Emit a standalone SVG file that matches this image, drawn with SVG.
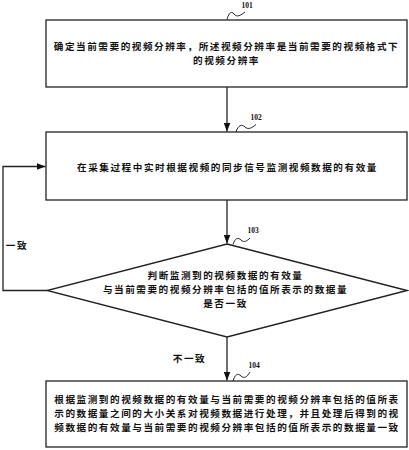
<svg xmlns="http://www.w3.org/2000/svg" width="409" height="450" viewBox="0 0 409 450">
<style>
.box{fill:#fff;stroke:#222;stroke-width:1.3}
.t{font-family:"Noto Sans CJK SC","Noto Sans CJK JP",sans-serif;font-size:9.6px;font-weight:bold;fill:#111;text-anchor:middle;letter-spacing:1.55px}
.n{font-family:"Liberation Serif",serif;font-size:7.5px;font-weight:bold;fill:#111;text-anchor:middle}
.c{fill:none;stroke:#222;stroke-width:1.3}
.w{fill:none;stroke:#222;stroke-width:1}
</style>
<defs>
<marker id="ah" markerWidth="9" markerHeight="7" refX="9" refY="3.5" orient="auto" markerUnits="userSpaceOnUse">
<path d="M0,0 L9,3.5 L0,7 Z" fill="#111"/>
</marker>
</defs>
<rect width="409" height="450" fill="#fff"/>
<g id="connectors">
<line class="c" x1="227" y1="87" x2="227" y2="131.5" marker-end="url(#ah)"/>
<line class="c" x1="227" y1="200" x2="227" y2="243.5" marker-end="url(#ah)"/>
<line class="c" x1="227" y1="337" x2="227" y2="380.5" marker-end="url(#ah)"/>
<polyline class="c" points="47,290.5 3,290.5 3,166.5 45.5,166.5" marker-end="url(#ah)"/>
<text class="t" x="17" y="248.8">一致</text>
<text class="t" x="189.5" y="361.8">不一致</text>
</g>
<g id="n101">
<rect class="box" x="46" y="20" width="361" height="67"/>
<text class="t"><tspan x="226.5" y="49.65">确定当前需要的视频分辨率，所述视频分辨率是当前需要的视频格式下</tspan><tspan x="226.5" y="64.35">的视频分辨率</tspan></text>
<path class="w" d="M227,19.5 C229,12 232,11 234,14 C237,18 241,15 245,12"/>
<text class="n" x="247" y="7.5">101</text>
</g>
<g id="n102">
<rect class="box" x="46" y="132" width="361" height="68"/>
<text class="t" x="227.5" y="170.65">在采集过程中实时根据视频的同步信号监测视频数据的有效量</text>
<path class="w" d="M236,132 C238,125 242,124 245,127 C248,130 252,128 256,124.5"/>
<text class="n" x="256" y="119.5">102</text>
</g>
<g id="n103">
<polygon class="box" points="227,244 407,290.5 227,337 47,290.5"/>
<text class="t"><tspan x="225.5" y="279.15">判断监测到的视频数据的有效量</tspan><tspan x="225.5" y="293.15">与当前需要的视频分辨率包括的值所表示的数据量</tspan><tspan x="225.5" y="307.15">是否一致</tspan></text>
<path class="w" d="M233,244.5 C235,238 238,237 241,240 C244,243 247,241 250,238"/>
<text class="n" x="253" y="232.5">103</text>
</g>
<g id="n104">
<rect class="box" x="46" y="381" width="361" height="66"/>
<text class="t"><tspan x="227" y="403.15">根据监测到的视频数据的有效量与当前需要的视频分辨率包括的值所表</tspan><tspan x="227" y="417.15">示的数据量之间的大小关系对视频数据进行处理，并且处理后得到的视</tspan><tspan x="227" y="431.15">频数据的有效量与当前需要的视频分辨率包括的值所表示的数据量一致</tspan></text>
<path class="w" d="M233,381 C235,374 238,373 241,376 C244,379 247,377 250,372"/>
<text class="n" x="254" y="367.5">104</text>
</g>
</svg>
